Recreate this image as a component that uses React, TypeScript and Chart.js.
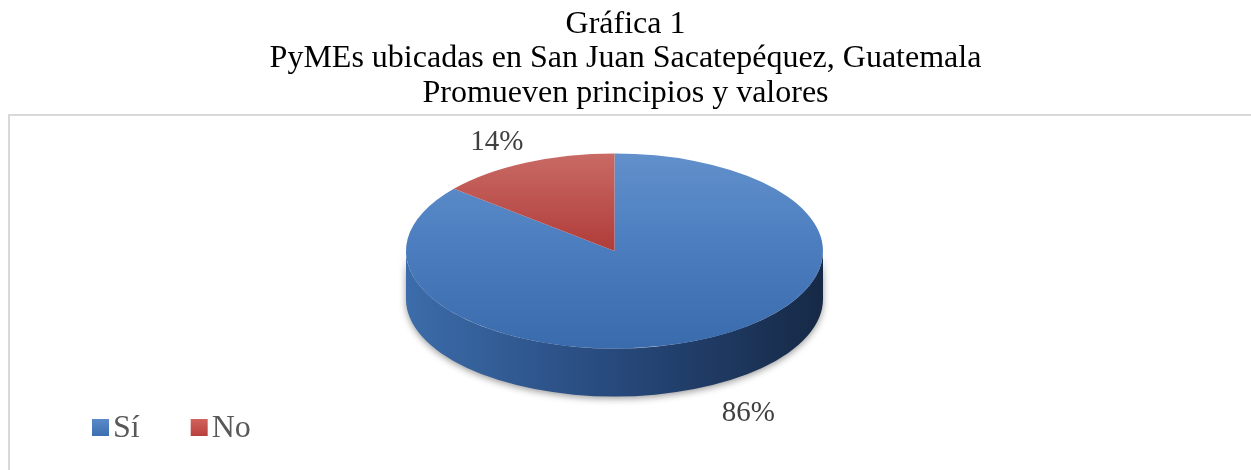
import React, { useEffect, useRef } from "react";
import { Chart, registerables } from "chart.js";

Chart.register(...registerables);

// ---------- data ----------
const titleLines = [
  "Gráfica 1",
  "PyMEs ubicadas en San Juan Sacatepéquez, Guatemala",
  "Promueven principios y valores",
];
const categories = ["Sí", "No"];
const values = [86, 14];

// ---------- styles ----------
const W = 1251;
const H = 470;
const FONT = "'Liberation Serif', 'Times New Roman', serif";
const PIE = { cx: 614.5, cy: 251, rx: 208.5, ry: 97.5, depth: 48 };
const topStops = [
  ["#6190CB", "#4A7CBE", "#3A6BAC"],
  ["#C96A65", "#B03C39", "#9E3330"],
];
const sideStops = [
  ["#3C6CAA", "#27497C", "#162946"],
  ["#9E3531", "#7E2926", "#5C1D1B"],
];
const solidColors = ["#4A7EBF", "#BE4B48"];
const legendStops = [
  ["#5A8AC8", "#3C6EB0"],
  ["#D2625E", "#B8403C"],
];

function visibleRanges(s: number, e: number): [number, number][] {
  const out: [number, number][] = [];
  for (let k = -2; k <= 2; k++) {
    const a = 2 * Math.PI * k;
    const b = a + Math.PI;
    const lo = Math.max(s, a);
    const hi = Math.min(e, b);
    if (hi > lo) out.push([lo, hi]);
  }
  return out;
}

const pie3d = {
  id: "pie3d",
  beforeDraw(chart: any) {
    const ctx = chart.ctx;
    ctx.save();
    ctx.strokeStyle = "#D9D9D9";
    ctx.lineWidth = 2;
    ctx.beginPath();
    ctx.moveTo(9, H + 5);
    ctx.lineTo(9, 115);
    ctx.lineTo(W + 5, 115);
    ctx.stroke();
    ctx.restore();
  },
  beforeDatasetsDraw(chart: any) {
    const ctx = chart.ctx;
    const arcs = chart.getDatasetMeta(0).data;
    chart.$pieSaved = false;
    if (!arcs || !arcs.length) return;
    const a0 = arcs[0];
    const { cx, cy, rx, ry, depth } = PIE;
    // side walls
    arcs.forEach((arc: any, i: number) => {
      const segs = visibleRanges(arc.startAngle, arc.endAngle);
      segs.forEach(([s, e]) => {
        ctx.save();
        const g = ctx.createLinearGradient(cx - rx, 0, cx + rx, 0);
        const st = sideStops[i % sideStops.length];
        g.addColorStop(0, st[0]);
        g.addColorStop(0.5, st[1]);
        g.addColorStop(1, st[2]);
        ctx.fillStyle = g;
        ctx.shadowColor = "rgba(0,0,0,0.4)";
        ctx.shadowBlur = 7;
        ctx.shadowOffsetY = 2;
        ctx.beginPath();
        ctx.ellipse(cx, cy, rx, ry, 0, s, e, false);
        ctx.ellipse(cx, cy + depth, rx, ry, 0, e, s, true);
        ctx.closePath();
        ctx.fill();
        ctx.restore();
      });
    });
    // top face: squash the library's pie into an ellipse
    ctx.save();
    chart.$pieSaved = true;
    ctx.translate(cx, cy);
    ctx.scale(rx / a0.outerRadius, ry / a0.outerRadius);
    ctx.translate(-a0.x, -a0.y);
  },
  afterDatasetsDraw(chart: any) {
    if (chart.$pieSaved) chart.ctx.restore();
    chart.$pieSaved = false;
  },
  afterDraw(chart: any) {
    const ctx = chart.ctx;
    const arcs = chart.getDatasetMeta(0).data;
    const data = chart.data.datasets[0].data as number[];
    const total = data.reduce((a, b) => a + b, 0);
    const { cx, cy, rx, ry, depth } = PIE;
    ctx.save();
    ctx.font = `29px ${FONT}`;
    ctx.fillStyle = "#404040";
    ctx.textAlign = "center";
    ctx.textBaseline = "middle";
    arcs.forEach((arc: any, i: number) => {
      const m = (arc.startAngle + arc.endAngle) / 2;
      const c = Math.cos(m);
      const s = Math.sin(m);
      const txt = Math.round((data[i] / total) * 100) + "%";
      const w = ctx.measureText(txt).width;
      const h = 20;
      const k = 15;
      const ex = cx + rx * c;
      const ey = cy + ry * s + (s > 0 ? depth : 0);
      const x = ex + c * k + (Math.sign(c) * w) / 2 + (s > 0 ? 12 : 4);
      const y = ey + s * k + (Math.sign(s) * h) / 2 + 3;
      ctx.fillText(txt, x, y);
    });
    // legend
    ctx.font = `32px ${FONT}`;
    ctx.textAlign = "left";
    ctx.textBaseline = "alphabetic";
    let x = 92;
    const by = 419;
    const bs = 17;
    chart.data.labels.forEach((name: string, i: number) => {
      const st = legendStops[i % legendStops.length];
      const g = ctx.createLinearGradient(0, by, 0, by + bs);
      g.addColorStop(0, st[0]);
      g.addColorStop(1, st[1]);
      ctx.fillStyle = g;
      ctx.fillRect(x, by, bs, bs);
      ctx.fillStyle = "#595959";
      ctx.fillText(name, x + bs + 4, 437);
      x += bs + 4 + ctx.measureText(name).width + 51;
    });
    ctx.restore();
  },
};

export default function App() {
  const ref = useRef<HTMLCanvasElement | null>(null);
  useEffect(() => {
    if (!ref.current) return;
    const chart = new Chart(ref.current, {
      type: "pie",
      data: {
        labels: categories,
        datasets: [
          {
            data: values,
            borderWidth: 0,
            clip: false as any,
            backgroundColor: (c: any) => {
              const i = c.dataIndex ?? 0;
              const chart = c.chart;
              const area = chart.chartArea;
              if (!area) return solidColors[i % solidColors.length];
              const r = Math.min(area.right - area.left, area.bottom - area.top) / 2;
              const my = (area.top + area.bottom) / 2;
              const g = chart.ctx.createLinearGradient(0, my - r, 0, my + r);
              const st = topStops[i % topStops.length];
              g.addColorStop(0, st[0]);
              g.addColorStop(0.5, st[1]);
              g.addColorStop(1, st[2]);
              return g;
            },
          },
        ],
      },
      options: {
        responsive: false,
        animation: false,
        events: [],
        plugins: {
          legend: { display: false },
          tooltip: { enabled: false },
          title: {
            display: true,
            text: titleLines,
            color: "#000000",
            font: { family: FONT, size: 32, weight: "normal", lineHeight: 1.078 },
            padding: { top: 7, bottom: 10 },
          },
        },
      },
      plugins: [pie3d],
    });
    return () => chart.destroy();
  }, []);
  return (
    <div style={{ position: "fixed", left: 0, top: 0, width: W, height: H, background: "#fff" }}>
      <canvas ref={ref} width={W} height={H} style={{ display: "block" }} />
    </div>
  );
}
